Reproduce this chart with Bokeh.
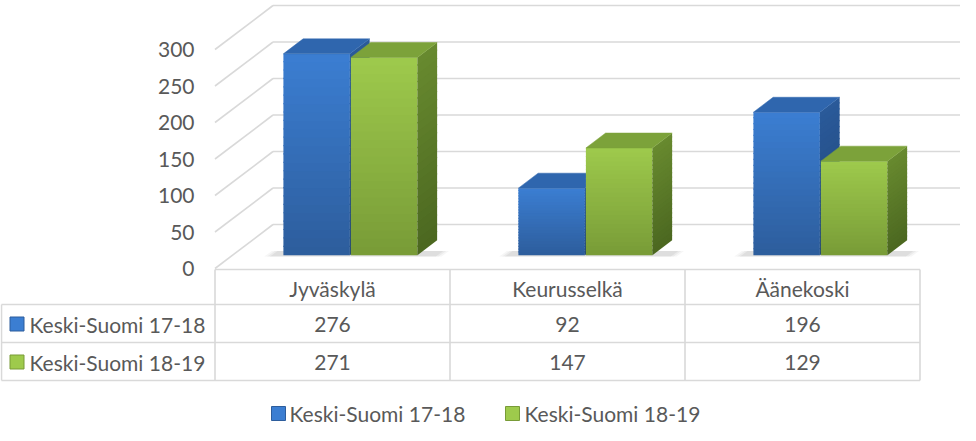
import numpy as np
from bokeh.plotting import figure
from bokeh.models import Range1d
from bokeh.core.properties import value
from bokeh.embed import file_html
from bokeh.resources import INLINE

# ---------------- data ----------------
categories = ["Jyväskylä", "Keurusselkä", "Äänekoski"]
series_names = ["Keski-Suomi 17-18", "Keski-Suomi 18-19"]
values_1718 = [276, 92, 196]
values_1819 = [271, 147, 129]
y_ticks = [0, 50, 100, 150, 200, 250, 300]

# ---------------- layout ----------------
W, H = 960, 425
PX_CAT = 235.0          # pixels per category
PX_VAL = 36.5 / 50.0    # pixels per value unit
REF_X0 = 340.0          # pixel of category 0 centre (front plane)
REF_Y0 = 276.0          # pixel of value 0 (front plane)
M = 8.0                 # page margin

def X(px):
    return (px - REF_X0) / PX_CAT

def Y(py):
    return (REF_Y0 - py) / PX_VAL

DX = 58.0 / PX_CAT      # full floor depth (x)
DY = 44.0 / PX_VAL      # full floor depth (y)
D0, D1 = 0.30, 0.64     # bar front / back depth fractions
BW = 66.5 / PX_CAT      # bar width

FONT = value("Lato")
FS = "21px"
TXT = "#595959"
GRID = "#d9d9d9"

colors = {
    0: dict(front_top=(0x3b, 0x7e, 0xd2), front_bot=(0x2d, 0x5d, 0x9c),
            side_top=(0x2a, 0x5a, 0x9a), side_bot=(0x21, 0x46, 0x78), top="#2f66ae"),
    1: dict(front_top=(0x9e, 0xca, 0x4c), front_bot=(0x78, 0x9b, 0x37),
            side_top=(0x68, 0x8a, 0x2f), side_bot=(0x4b, 0x67, 0x20), top="#7ca23a"),
}

def hexc(c):
    return "#%02x%02x%02x" % tuple(int(round(v)) for v in c)

def lerp(a, b, t):
    return tuple(a[k] + (b[k] - a[k]) * t for k in range(3))

p = figure(width=W, height=H, output_backend="svg", toolbar_location=None,
           x_range=Range1d(X(M), X(M + W)), y_range=Range1d(Y(M + H), Y(M)),
           min_border=0, outline_line_color=None)
p.axis.visible = False
p.grid.visible = False
p.background_fill_color = "white"
p.border_fill_color = "white"

# ---------------- walls / gridlines ----------------
left = -0.5
right = len(categories) - 0.5
for t in y_ticks:
    p.line([left, left + DX], [t, t + DY], line_color=GRID, line_width=1.6)
    p.line([left + DX, right + DX], [t + DY, t + DY], line_color=GRID, line_width=1.6)

# ---------------- shadows ----------------
for i in range(len(categories)):
    x0 = i - BW - 0.05
    x1 = i + BW + 0.09
    for k, a in enumerate([0.07, 0.09, 0.12]):
        e = 0.012 * (2 - k)
        p.patch([x0 + (D0 - 0.03) * DX - e, x1 + (D0 - 0.03) * DX + e,
                 x1 + (D0 + 0.10) * DX + e, x0 + (D0 + 0.10) * DX - e],
                [(D0 - 0.03) * DY, (D0 - 0.03) * DY, (D0 + 0.10) * DY, (D0 + 0.10) * DY],
                fill_color="#808080", fill_alpha=a, line_color=None)

# ---------------- bars ----------------
NSTRIP = 24
EPS = 1.2 / PX_VAL
all_vals = [values_1718, values_1819]
for i in range(len(categories)):
    for s in range(2):
        v = all_vals[s][i]
        c = colors[s]
        x0 = i - BW + s * (BW + 1.0 / PX_CAT)
        x1 = x0 + BW
        fx0, fx1 = x0 + D0 * DX, x1 + D0 * DX
        bx0, bx1 = x0 + D1 * DX, x1 + D1 * DX
        fy0, by0 = D0 * DY, D1 * DY
        edges = np.linspace(0, v, NSTRIP + 1)
        tops = [min(edges[k + 1] + EPS, v) for k in range(NSTRIP)]
        # front face gradient
        cols = [hexc(lerp(c["front_bot"], c["front_top"], (k + 0.5) / NSTRIP)) for k in range(NSTRIP)]
        p.quad(left=[fx0] * NSTRIP, right=[fx1] * NSTRIP,
               bottom=list(edges[:-1] + fy0), top=[t + fy0 for t in tops],
               fill_color=cols, line_color=None)
        # side face gradient
        scol = [hexc(lerp(c["side_bot"], c["side_top"], (k + 0.5) / NSTRIP)) for k in range(NSTRIP)]
        xs, ys = [], []
        for k in range(NSTRIP):
            a, b = edges[k], tops[k]
            xs.append([fx1, bx1, bx1, fx1])
            ys.append([a + fy0, a + by0, b + by0, b + fy0])
        p.patches(xs, ys, fill_color=scol, line_color=None)
        # top face
        p.patch([fx0, fx1, bx1, bx0], [v + fy0, v + fy0, v + by0, v + by0],
                fill_color=c["top"], line_color=c["top"], line_width=0.5)

# ---------------- y tick labels ----------------
p.text(x=[X(202)] * len(y_ticks), y=y_ticks, text=[str(t) for t in y_ticks],
       text_align="right", text_baseline="middle", text_font=FONT,
       text_font_size=FS, text_color=TXT)

# ---------------- data table ----------------
row_edges = [277, 312, 350, 388]
tl = X(9)
p.line([left, right], [Y(row_edges[0])] * 2, line_color=GRID, line_width=1.6)
for r in row_edges[1:]:
    p.line([tl, right], [Y(r)] * 2, line_color=GRID, line_width=1.6)
for k in range(len(categories) + 1):
    p.line([left + k, left + k], [Y(row_edges[0]), Y(row_edges[-1])], line_color=GRID, line_width=1.6)
p.line([tl, tl], [Y(row_edges[1]), Y(row_edges[-1])], line_color=GRID, line_width=1.6)

cx = list(range(len(categories)))
p.text(x=cx, y=[Y(296)] * 3, text=categories, text_align="center", text_baseline="middle",
       text_font=FONT, text_font_size=FS, text_color=TXT)
row_y = [Y(331.5), Y(369.5)]
for s in range(2):
    p.text(x=cx, y=[row_y[s]] * 3, text=[str(v) for v in all_vals[s]], text_align="center",
           text_baseline="middle", text_font=FONT, text_font_size=FS, text_color=TXT)
    p.scatter(x=[X(24.5)], y=[row_y[s]], marker="square", size=14,
              fill_color=hexc(colors[s]["front_top"]), line_color=hexc(colors[s]["front_bot"]))
    p.text(x=[X(37)], y=[row_y[s]], text=[series_names[s]], text_align="left",
           text_baseline="middle", text_font=FONT, text_font_size=FS, text_color=TXT)

# ---------------- legend ----------------
leg_y = Y(421)
leg_mx = [X(286), X(520)]
leg_tx = [X(297), X(532)]
for s in range(2):
    p.scatter(x=[leg_mx[s]], y=[leg_y], marker="square", size=14,
              fill_color=hexc(colors[s]["front_top"]), line_color=hexc(colors[s]["front_bot"]))
    p.text(x=[leg_tx[s]], y=[leg_y], text=[series_names[s]], text_align="left",
           text_baseline="middle", text_font=FONT, text_font_size=FS, text_color=TXT)

open("out.html", "w").write(file_html(p, INLINE))
